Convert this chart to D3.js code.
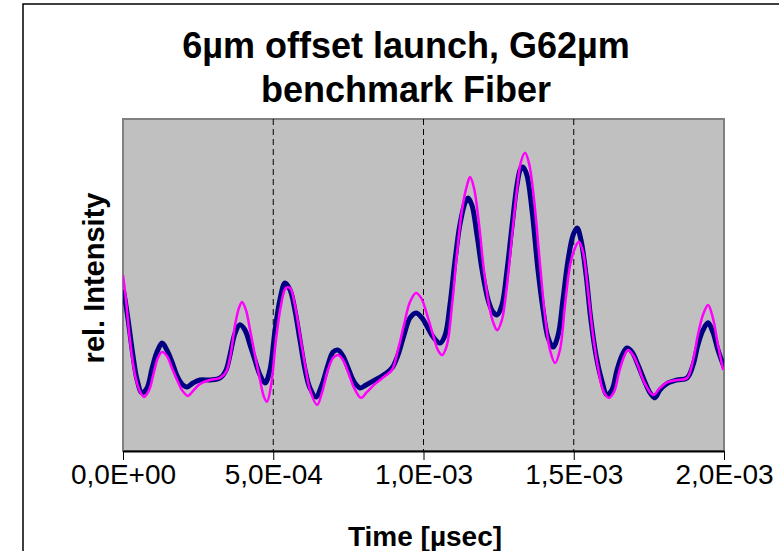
<!DOCTYPE html>
<html>
<head>
<meta charset="utf-8">
<script src="https://cdn.jsdelivr.net/npm/d3@7"></script>
<style>
  body { margin: 0; background: #fff; }
  svg { display: block; font-family: "Liberation Sans", Arial, sans-serif; }
</style>
</head>
<body>
<div id="chart"></div>
<script>
// time values are in units of 1E-03 (axis shows them in seconds notation)
const xTicks = [0, 0.5, 1, 1.5, 2];

// dark blue trace
const timeNavy = [0.000, 0.003, 0.017, 0.033, 0.047, 0.063, 0.080, 0.097, 0.113, 0.130,
  0.146, 0.163, 0.180, 0.196, 0.213, 0.233, 0.256, 0.290, 0.323, 0.343,
  0.356, 0.373, 0.389, 0.406, 0.423, 0.439, 0.456, 0.473, 0.489, 0.506,
  0.522, 0.539, 0.556, 0.572, 0.589, 0.606, 0.622, 0.642, 0.662, 0.682,
  0.699, 0.716, 0.732, 0.749, 0.769, 0.789, 0.809, 0.839, 0.872, 0.895,
  0.915, 0.935, 0.955, 0.975, 0.995, 1.015, 1.035, 1.055, 1.072, 1.088,
  1.105, 1.121, 1.138, 1.148, 1.161, 1.178, 1.195, 1.215, 1.231, 1.245,
  1.261, 1.278, 1.295, 1.311, 1.324, 1.331, 1.344, 1.361, 1.381, 1.398,
  1.414, 1.431, 1.448, 1.464, 1.481, 1.498, 1.511, 1.524, 1.541, 1.557,
  1.574, 1.591, 1.611, 1.627, 1.644, 1.661, 1.677, 1.694, 1.714, 1.734,
  1.754, 1.770, 1.787, 1.814, 1.844, 1.877, 1.897, 1.913, 1.930, 1.947,
  1.963, 1.980, 2.000];
const navy = [48.5, 47.6, 39.5, 28.9, 21.4, 17.5, 19.0, 25.0, 29.8, 32.5,
  30.4, 26.8, 22.6, 20.2, 19.3, 20.5, 21.4, 21.4, 22.0, 24.4,
  28.9, 35.5, 38.0, 36.4, 31.9, 27.4, 22.9, 20.5, 24.4, 36.4,
  45.5, 50.6, 48.5, 42.5, 33.4, 24.4, 19.0, 16.3, 19.9, 25.9,
  29.8, 30.4, 28.6, 25.0, 20.8, 19.0, 19.9, 21.4, 23.2, 25.0,
  28.9, 34.9, 40.1, 41.6, 40.1, 37.0, 34.0, 32.5, 34.9, 44.0,
  57.5, 68.1, 74.7, 76.2, 74.1, 65.1, 54.5, 45.5, 41.9, 41.0,
  44.0, 54.5, 68.1, 80.1, 85.2, 85.5, 83.1, 72.6, 54.5, 42.5,
  34.3, 31.3, 34.9, 45.5, 57.5, 65.1, 67.2, 63.6, 53.0, 39.5,
  28.9, 22.0, 16.9, 18.4, 24.4, 28.9, 31.0, 29.8, 25.9, 21.4,
  17.5, 16.0, 18.4, 20.5, 21.4, 22.0, 25.9, 31.9, 36.4, 38.6,
  35.8, 30.4, 25.3];

// magenta trace
const timeMagenta = [0.000, 0.010, 0.023, 0.040, 0.057, 0.070, 0.087, 0.103, 0.116, 0.130,
  0.146, 0.163, 0.180, 0.196, 0.216, 0.236, 0.256, 0.290, 0.323, 0.343,
  0.356, 0.373, 0.386, 0.396, 0.409, 0.423, 0.439, 0.456, 0.469, 0.479,
  0.493, 0.509, 0.526, 0.542, 0.556, 0.572, 0.589, 0.606, 0.622, 0.646,
  0.662, 0.682, 0.699, 0.716, 0.732, 0.749, 0.769, 0.792, 0.812, 0.839,
  0.872, 0.895, 0.915, 0.935, 0.955, 0.975, 0.992, 1.012, 1.032, 1.048,
  1.062, 1.078, 1.095, 1.111, 1.128, 1.145, 1.155, 1.168, 1.185, 1.201,
  1.221, 1.235, 1.245, 1.261, 1.278, 1.295, 1.311, 1.324, 1.338, 1.351,
  1.368, 1.388, 1.404, 1.421, 1.438, 1.454, 1.471, 1.488, 1.504, 1.517,
  1.531, 1.547, 1.564, 1.581, 1.597, 1.617, 1.634, 1.651, 1.667, 1.681,
  1.697, 1.714, 1.734, 1.764, 1.787, 1.814, 1.844, 1.877, 1.897, 1.913,
  1.930, 1.947, 1.963, 1.980, 1.997];
const magenta = [53.0, 45.5, 33.4, 22.9, 17.8, 16.3, 18.4, 23.8, 28.0, 29.8,
  28.6, 25.0, 21.4, 18.4, 16.6, 18.4, 20.2, 21.4, 22.0, 23.8,
  28.0, 38.0, 43.1, 44.9, 42.5, 36.4, 28.9, 21.4, 16.3, 14.8,
  19.9, 33.4, 44.0, 49.1, 49.1, 44.0, 34.9, 25.9, 18.4, 13.9,
  17.5, 24.4, 28.0, 28.9, 27.4, 23.8, 19.0, 16.0, 17.8, 20.2,
  22.6, 24.4, 30.4, 38.0, 44.9, 47.6, 46.1, 41.0, 34.9, 30.4,
  28.9, 31.9, 44.0, 59.0, 72.6, 80.1, 82.5, 79.2, 68.1, 54.5,
  42.5, 38.0, 36.4, 39.5, 50.0, 65.1, 78.6, 87.0, 89.8, 86.7,
  75.6, 56.0, 41.0, 30.4, 26.5, 30.4, 44.0, 56.0, 61.1, 63.0,
  59.9, 48.5, 34.9, 25.0, 18.4, 16.0, 17.8, 23.8, 28.3, 30.4,
  28.9, 25.6, 20.8, 16.9, 19.0, 20.8, 21.4, 22.0, 27.4, 34.9,
  41.0, 44.0, 40.1, 31.9, 24.4];

const W = 779, H = 551;
const plot = { left: 123, right: 724, top: 119, bottom: 451 };

const svg = d3.select('#chart').append('svg')
  .attr('width', W)
  .attr('height', H);

// outer chart border (runs past the right and bottom edge)
svg.append('rect')
  .attr('x', 23).attr('y', 4)
  .attr('width', 800).attr('height', 600)
  .attr('fill', '#fff')
  .attr('stroke', '#000')
  .attr('stroke-width', 1.5);

const x = d3.scaleLinear().domain([0, 2]).range([plot.left, plot.right]);
const y = d3.scaleLinear().domain([0, 100]).range([plot.bottom, plot.top]);

// plot area
svg.append('rect')
  .attr('x', plot.left).attr('y', plot.top)
  .attr('width', plot.right - plot.left)
  .attr('height', plot.bottom - plot.top)
  .attr('fill', '#c0c0c0')
  .attr('stroke', '#808080')
  .attr('stroke-width', 2);

// dashed vertical gridlines
svg.selectAll('.grid')
  .data(xTicks.slice(1, -1))
  .enter().append('line')
  .attr('x1', d => x(d)).attr('x2', d => x(d))
  .attr('y1', plot.top).attr('y2', plot.bottom)
  .attr('stroke', '#000')
  .attr('stroke-width', 1)
  .attr('stroke-dasharray', '6,4');

svg.append('clipPath').attr('id', 'clip')
  .append('rect')
  .attr('x', plot.left).attr('y', plot.top)
  .attr('width', plot.right - plot.left)
  .attr('height', plot.bottom - plot.top);

const line = d3.line()
  .x(d => x(d[0]))
  .y(d => y(d[1]))
  .curve(d3.curveCatmullRom.alpha(0.5));

svg.append('path')
  .datum(timeNavy.map((t, i) => [t, navy[i]]))
  .attr('d', line)
  .attr('fill', 'none')
  .attr('stroke', '#000080')
  .attr('stroke-width', 5)
  .attr('clip-path', 'url(#clip)');

svg.append('path')
  .datum(timeMagenta.map((t, i) => [t, magenta[i]]))
  .attr('d', line)
  .attr('fill', 'none')
  .attr('stroke', '#ff00ff')
  .attr('stroke-width', 2.5)
  .attr('clip-path', 'url(#clip)');

// x axis label format like 5,0E-04
function sci(v) {
  const s = v * 1e-3;
  if (s === 0) return '0,0E+00';
  const e = Math.floor(Math.log10(s) + 1e-9);
  const m = s / Math.pow(10, e);
  return m.toFixed(1).replace('.', ',') + 'E' + (e < 0 ? '-' : '+') + String(Math.abs(e)).padStart(2, '0');
}

const xAxis = d3.axisBottom(x)
  .tickValues(xTicks)
  .tickFormat(sci)
  .tickSizeInner(9)
  .tickSizeOuter(0)
  .tickPadding(4);

const gx = svg.append('g')
  .attr('transform', `translate(0,${plot.bottom})`)
  .call(xAxis);
gx.select('.domain').attr('stroke', '#000').attr('stroke-width', 2);
gx.selectAll('.tick line').attr('stroke', '#000').attr('stroke-width', 1);
gx.selectAll('.tick text')
  .attr('font-size', 28)
  .attr('fill', '#000')
  .attr('font-family', '"Liberation Sans", Arial, sans-serif');

// titles
const title = svg.append('text')
  .attr('x', 406)
  .attr('text-anchor', 'middle')
  .attr('font-size', 36)
  .attr('font-weight', 'bold');
title.append('tspan').attr('x', 406).attr('y', 58).text('6µm offset launch, G62µm');
title.append('tspan').attr('x', 406).attr('y', 102).text('benchmark Fiber');

svg.append('text')
  .attr('x', 425).attr('y', 546)
  .attr('text-anchor', 'middle')
  .attr('font-size', 28)
  .attr('font-weight', 'bold')
  .text('Time [µsec]');

svg.append('text')
  .attr('transform', 'translate(104,278) rotate(-90)')
  .attr('text-anchor', 'middle')
  .attr('font-size', 29)
  .attr('font-weight', 'bold')
  .text('rel. Intensity');
</script>
</body>
</html>
